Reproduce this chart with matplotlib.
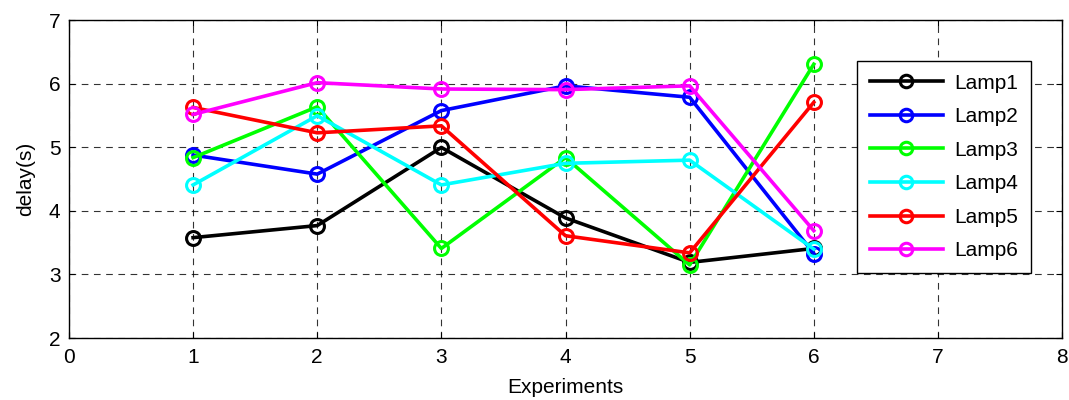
import matplotlib
matplotlib.use("Agg")
import matplotlib.pyplot as plt

plt.rcParams['font.family'] = ['Liberation Sans', 'DejaVu Sans']

# data
experiments = [1, 2, 3, 4, 5, 6]
lamp1 = [3.58, 3.77, 5.00, 3.89, 3.19, 3.41]
lamp2 = [4.88, 4.58, 5.58, 5.97, 5.79, 3.33]
lamp3 = [4.84, 5.64, 3.41, 4.84, 3.15, 6.31]
lamp4 = [4.41, 5.50, 4.41, 4.75, 4.80, 3.40]
lamp5 = [5.63, 5.23, 5.34, 3.61, 3.34, 5.71]
lamp6 = [5.52, 6.02, 5.92, 5.91, 5.97, 3.69]
labels = ['Lamp1', 'Lamp2', 'Lamp3', 'Lamp4', 'Lamp5', 'Lamp6']
colors = ['#000000', '#0000ff', '#00ff00', '#00ffff', '#ff0000', '#ff00ff']

fig = plt.figure(figsize=(10.69, 4.0), dpi=100)
ax = fig.add_axes([0.0645, 0.155, 0.929, 0.794])

series = [lamp1, lamp2, lamp3, lamp4, lamp5, lamp6]
for ys, lab, c in zip(series, labels, colors):
    ax.plot(experiments, ys, '-o', color=c, lw=2.6, ms=10,
            mfc='none', mec=c, mew=2.2, label=lab)

ax.set_xlim(0, 8)
ax.set_ylim(2, 7)
ax.set_xticks(range(0, 9))
ax.set_yticks(range(2, 8))
ax.grid(True, color='black', linestyle=(0, (6, 5)), linewidth=0.8, alpha=0.8)
ax.tick_params(axis='x', pad=7)
ax.tick_params(axis='y', pad=6)
ax.tick_params(direction='in', top=True, right=True, labelsize=15, length=4)
for s in ax.spines.values():
    s.set_linewidth(1.0)

ax.set_xlabel('Experiments', fontsize=15, labelpad=8)
ax.set_ylabel('delay(s)', fontsize=15, labelpad=10)

leg = ax.legend(loc='upper left', bbox_to_anchor=(0.794, 0.872), fontsize=15,
                fancybox=False, framealpha=1, edgecolor='black',
                handlelength=3.5, labelspacing=0.7, borderpad=0.6,
                handletextpad=0.55, borderaxespad=0)
leg.get_frame().set_linewidth(1.0)
for h in leg.get_lines():
    h.set_markersize(9)

fig.savefig('out.png', dpi=100)
